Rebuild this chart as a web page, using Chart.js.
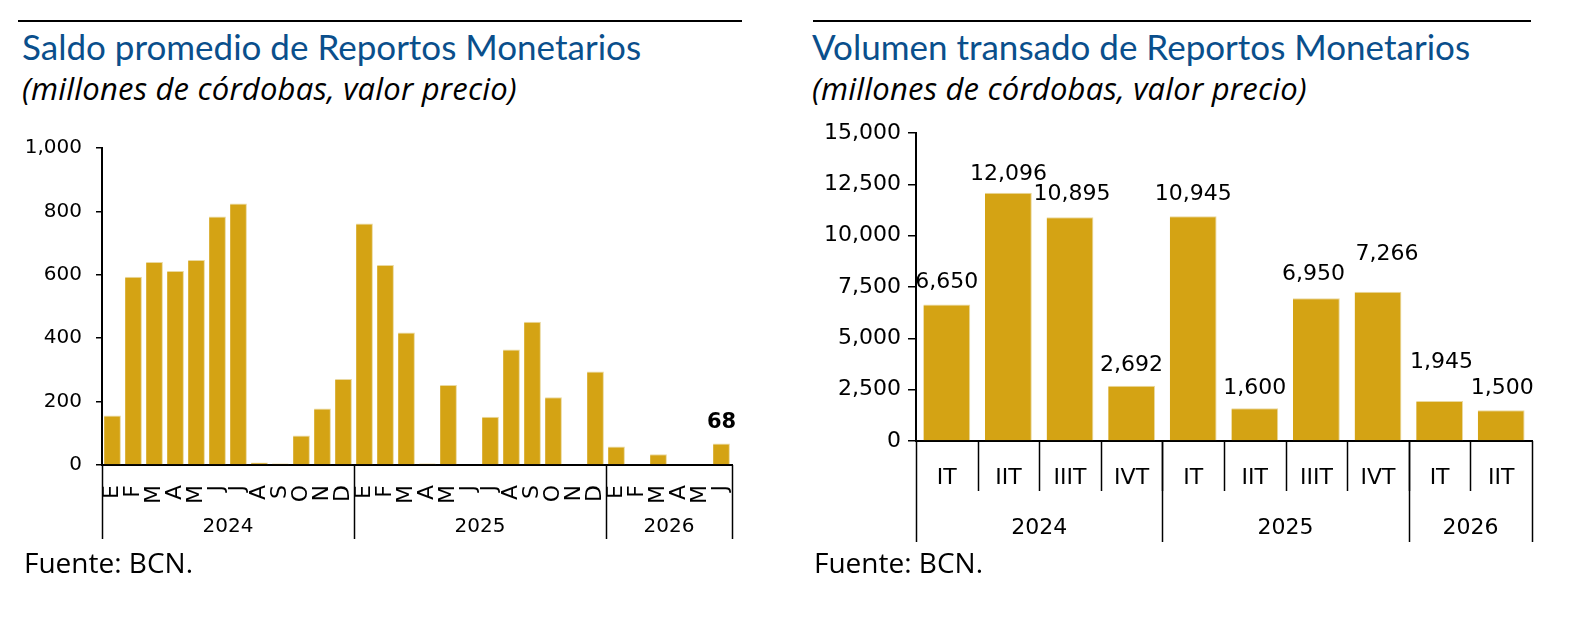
<!DOCTYPE html>
<html>
<head>
<meta charset="utf-8">
<title>Reportos Monetarios</title>
<script src="https://cdn.jsdelivr.net/npm/chart.js@4.4.1/dist/chart.umd.min.js"></script>
<style>
    html, body { margin: 0; padding: 0; background: #fff; }
    body { width: 1580px; height: 634px; position: relative; overflow: hidden; }
    .rule { position: absolute; top: 20px; height: 2px; background: #000; }
    .title, .sub, .src { position: absolute; white-space: nowrap; }
    .title { font-family: Lato, sans-serif; color: #0a4f8c; font-size: 35px; line-height: 42px; top: 25px; }
    .sub { font-family: "Open Sans", sans-serif; color: #000; font-size: 31px; line-height: 42.2px; letter-spacing: 0.2px; font-style: italic; top: 67px; }
    .src { font-family: "Open Sans", sans-serif; color: #000; font-size: 28px; line-height: 38.1px; top: 543px; }
    canvas { position: absolute; top: 100px; }
</style>
</head>
<body>
<div class="rule" style="left:18px;width:724px"></div>
<div class="title" style="left:22px">Saldo promedio de Reportos Monetarios</div>
<div class="sub" style="left:22px">(millones de córdobas, valor precio)</div>
<canvas id="saldo" width="790" height="450" style="left:0;width:790px;height:450px"></canvas>
<div class="src" style="left:24px">Fuente: BCN.</div>

<div class="rule" style="left:813px;width:718px"></div>
<div class="title" style="left:812px">Volumen transado de Reportos Monetarios</div>
<div class="sub" style="left:812px">(millones de córdobas, valor precio)</div>
<canvas id="volumen" width="790" height="450" style="left:790px;width:790px;height:450px"></canvas>
<div class="src" style="left:814px">Fuente: BCN.</div>

<script>
// --- data ---
const MONTHS = ['E', 'F', 'M', 'A', 'M', 'J', 'J', 'A', 'S', 'O', 'N', 'D',
                'E', 'F', 'M', 'A', 'M', 'J', 'J', 'A', 'S', 'O', 'N', 'D',
                'E', 'F', 'M', 'A', 'M', 'J'];
const SALDO = [156, 594, 640, 612, 647, 784, 825, 8, 5, 93, 178, 271,
               762, 631, 418, 5, 252, 0, 152, 364, 452, 214, 0, 295,
               58, 0, 34, 0, 0, 68];
const SALDO_YEARS = ['2024', '2025', '2026'];
const SALDO_YEAR_SPAN = [12, 12, 6];
const SALDO_TICKS = [0, 200, 400, 600, 800, 1000];

const QUARTERS = ['IT', 'IIT', 'IIIT', 'IVT', 'IT', 'IIT', 'IIIT', 'IVT', 'IT', 'IIT'];
const VOLUMEN = [6650, 12096, 10895, 2692, 10945, 1600, 6950, 7266, 1945, 1500];
const VOL_YEARS = ['2024', '2025', '2026'];
const VOL_YEAR_SPAN = [4, 4, 2];
const VOL_TICKS = [0, 2500, 5000, 7500, 10000, 12500, 15000];

const GOLD = '#d4a314';
const GOLD_EDGE = '#ead9a0';
const FONT = '"DejaVu Sans", Verdana, sans-serif';

Chart.defaults.font.family = FONT;
Chart.defaults.color = '#000';

function fmt(v) { return Number(v).toLocaleString('en-US'); }

// year groups (and optional per-category separators) under the category axis
const groupAxis = {
    id: 'groupAxis',
    afterDraw(chart, args, o) {
        const x = chart.scales.x;
        const area = chart.chartArea;
        const ctx = chart.ctx;
        const n = chart.data.labels.length;
        const step = (x.getPixelForValue(n - 1) - x.getPixelForValue(0)) / (n - 1);
        const edge = function (i) { return x.getPixelForValue(0) + (i - 0.5) * step; };
        function vline(px, len) {
            ctx.beginPath();
            ctx.moveTo(Math.round(px) + 0.5, area.bottom);
            ctx.lineTo(Math.round(px) + 0.5, area.bottom + len);
            ctx.stroke();
        }
        ctx.save();
        ctx.strokeStyle = '#000';
        ctx.lineWidth = 1.5;
        if (o.innerLen) {
            for (let i = 1; i < n; i++) vline(edge(i), o.innerLen);
        }
        const bounds = [0];
        o.spans.forEach(function (s) { bounds.push(bounds[bounds.length - 1] + s); });
        bounds.forEach(function (b) { vline(edge(b), o.groupLen); });
        ctx.font = o.font;
        ctx.fillStyle = '#000';
        ctx.textAlign = 'center';
        ctx.textBaseline = 'middle';
        o.groups.forEach(function (g, k) {
            ctx.fillText(g, (edge(bounds[k]) + edge(bounds[k + 1])) / 2, area.bottom + o.labelY);
        });
        ctx.restore();
    }
};

// value labels above bars (gap / dx may be per-bar arrays, as hand placed in the original)
const valueLabels = {
    id: 'valueLabels',
    afterDatasetsDraw(chart, args, o) {
        const meta = chart.getDatasetMeta(0);
        const values = chart.data.datasets[0].data;
        const ctx = chart.ctx;
        ctx.save();
        ctx.font = o.font;
        ctx.fillStyle = '#000';
        ctx.textAlign = 'center';
        ctx.textBaseline = 'alphabetic';
        meta.data.forEach(function (bar, i) {
            if (o.only && o.only.indexOf(i) < 0) return;
            const gap = Array.isArray(o.gap) ? o.gap[i] : o.gap;
            const dx = Array.isArray(o.dx) ? o.dx[i] : 0;
            ctx.fillText(fmt(values[i]), bar.x + dx, bar.y - gap);
        });
        ctx.restore();
    }
};

function barChart(id, cfg) {
    const chart = new Chart(document.getElementById(id), {
        type: 'bar',
        data: {
            labels: cfg.labels,
            datasets: [{
                data: cfg.values,
                backgroundColor: GOLD,
                borderColor: GOLD_EDGE,
                borderWidth: { top: 1, right: 1, left: 0, bottom: 0 },
                categoryPercentage: 1,
                barPercentage: cfg.barPct
            }]
        },
        plugins: [groupAxis, valueLabels],
        options: {
            responsive: false,
            animation: false,
            events: [],
            layout: { padding: Object.assign({}, cfg.padding) },
            plugins: {
                legend: { display: false },
                tooltip: { enabled: false },
                groupAxis: cfg.group,
                valueLabels: cfg.valueLabels
            },
            scales: {
                x: {
                    grid: { display: false, drawTicks: false },
                    border: { display: true, color: '#000', width: 2 },
                    ticks: cfg.xTicks,
                    afterFit: function (s) { s.height = cfg.xHeight; }
                },
                y: {
                    min: cfg.yTicks[0],
                    max: cfg.yTicks[cfg.yTicks.length - 1],
                    afterBuildTicks: function (s) { s.ticks = cfg.yTicks.map(function (v) { return { value: v }; }); },
                    grid: { drawOnChartArea: false, drawTicks: true, tickLength: cfg.tickLen, color: '#000', lineWidth: 1.5 },
                    border: { display: true, color: '#000', width: 2 },
                    ticks: { font: { size: cfg.yFont }, padding: cfg.yPad, callback: function (v) { return fmt(v); } },
                    afterFit: function (s) { s.width = cfg.yWidth; }
                }
            }
        }
    });

    // nudge the plot area onto the reference position (canvas coordinates)
    for (let k = 0; k < 3; k++) {
        const a = chart.chartArea;
        const t = cfg.area;
        const dTop = t.top - a.top, dBottom = a.bottom - t.bottom;
        const dLeft = t.left - a.left, dRight = a.right - t.right;
        if (Math.abs(dTop) + Math.abs(dBottom) + Math.abs(dLeft) + Math.abs(dRight) < 0.5) break;
        cfg.padding.top += dTop;
        cfg.padding.right += dRight;
        cfg.xHeight += dBottom;
        cfg.yWidth += dLeft;
        chart.options.layout.padding = Object.assign({}, cfg.padding);
        chart.update();
    }
    return chart;
}

barChart('saldo', {
    labels: MONTHS,
    values: SALDO,
    barPct: 0.8,
    area: { left: 102, right: 732, top: 48, bottom: 365 },
    padding: { top: 48, right: 58, bottom: 0, left: 0 },
    xHeight: 85,
    xTicks: { font: { size: 22 }, minRotation: 90, maxRotation: 90, autoSkip: false, padding: 20 },
    yTicks: SALDO_TICKS,
    yWidth: 102,
    yFont: 20,
    yPad: 14,
    tickLen: 6,
    group: { groups: SALDO_YEARS, spans: SALDO_YEAR_SPAN, groupLen: 74, labelY: 62, font: '20px ' + FONT },
    valueLabels: { only: [SALDO.length - 1], gap: 15, font: 'bold 21px ' + FONT }
});

barChart('volumen', {
    labels: QUARTERS,
    values: VOLUMEN,
    barPct: 0.76,
    area: { left: 126, right: 742, top: 33, bottom: 341 },
    padding: { top: 33, right: 48, bottom: 0, left: 0 },
    xHeight: 109,
    xTicks: { font: { size: 22 }, autoSkip: false, maxRotation: 0, padding: 24 },
    yTicks: VOL_TICKS,
    yWidth: 126,
    yFont: 22,
    yPad: 7,
    tickLen: 8,
    group: { groups: VOL_YEARS, spans: VOL_YEAR_SPAN, innerLen: 50, groupLen: 101, labelY: 87, font: '22px ' + FONT },
    valueLabels: {
        gap: [16, 13, 17, 15, 16, 14, 18, 32, 33, 16],
        dx: [0, 0, 2, 0, 0, 0, -3, 9, 2, 1],
        font: '22px ' + FONT
    }
});
</script>
</body>
</html>
